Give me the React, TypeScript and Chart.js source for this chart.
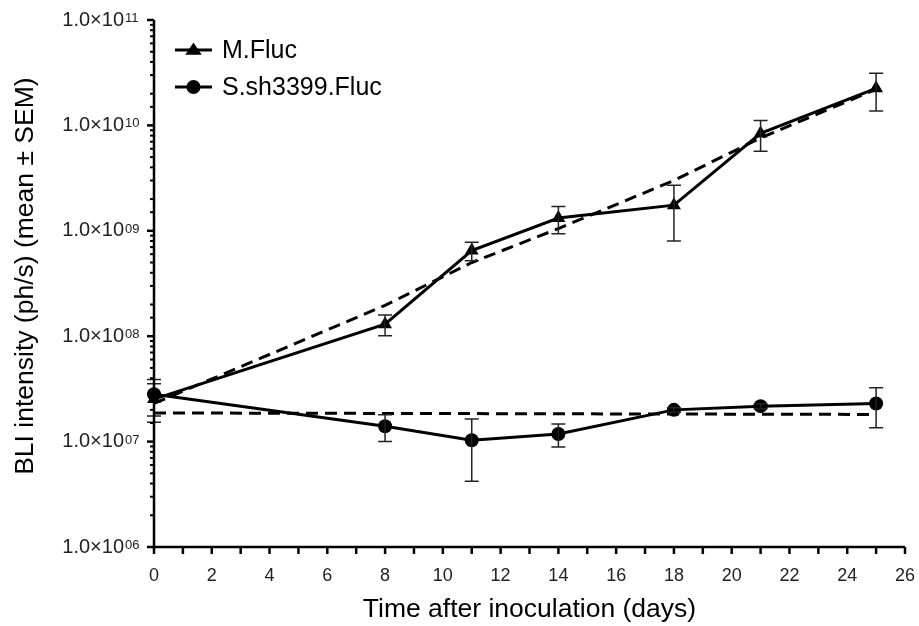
import React, { useEffect, useRef } from 'react';
import { Chart, registerables } from 'chart.js';

Chart.register(...registerables);

// ---- data ----
const days = [0, 8, 11, 14, 18, 21, 25];
const mFlucMean = [2.53e7, 1.3e8, 6.5e8, 1.32e9, 1.75e9, 8.4e9, 2.25e10];
const mFlucSem = [1.0e7, 2.9e7, 1.3e8, 3.8e8, 9.5e8, 2.7e9, 8.8e9];
const sFlucMean = [2.82e7, 1.4e7, 1.03e7, 1.18e7, 2.0e7, 2.17e7, 2.3e7];
const sFlucSem = [1.07e7, 4.0e6, 6.1e6, 2.9e6, 1.0e6, 1.2e6, 9.5e6];
const mTrend = [2.3e7, 1.96e8, 5.0e8, 1.05e9, 3.0e9, 7.6e9, 2.2e10];
const sTrendDays = [0, 25];
const sTrend = [1.87e7, 1.81e7];
const seriesLabels = ['M.Fluc', 'S.sh3399.Fluc'];
const xTickLabels = ['0', '2', '4', '6', '8', '10', '12', '14', '16', '18', '20', '22', '24', '26'];
const yTickValues = [1e6, 1e7, 1e8, 1e9, 1e10, 1e11];
const yTickMantissa = '1.0×10';
const yTickExponents = ['06', '07', '08', '09', '10', '11'];
const xTitle = 'Time after inoculation (days)';
const yTitle = 'BLI intensity (ph/s) (mean ± SEM)';

const FONT = "'Liberation Sans', Arial, sans-serif";

const findYTick = (v: number) =>
  yTickValues.findIndex((t) => Math.abs(Math.log10(t) - Math.log10(v)) < 1e-6);

const errorBarPlugin = {
  id: 'errorBars',
  afterDatasetsDraw(chart: any) {
    const { ctx, scales } = chart;
    const xs = scales.x;
    const ys = scales.y;
    ctx.save();
    ctx.strokeStyle = '#222';
    ctx.lineWidth = 1.5;
    const draw = (means: number[], sems: number[]) => {
      days.forEach((d, i) => {
        const px = xs.getPixelForValue(d);
        const top = ys.getPixelForValue(means[i] + sems[i]);
        const bot = ys.getPixelForValue(Math.max(means[i] - sems[i], 1e6));
        ctx.beginPath();
        ctx.moveTo(px, top);
        ctx.lineTo(px, bot);
        ctx.moveTo(px - 7, top);
        ctx.lineTo(px + 7, top);
        ctx.moveTo(px - 7, bot);
        ctx.lineTo(px + 7, bot);
        ctx.stroke();
      });
    };
    draw(mFlucMean, mFlucSem);
    draw(sFlucMean, sFlucSem);
    ctx.restore();
  },
};

const axesPlugin = {
  id: 'axesTicks',
  afterDraw(chart: any) {
    const { ctx, scales, chartArea } = chart;
    const xs = scales.x;
    const ys = scales.y;
    ctx.save();
    ctx.strokeStyle = '#000';
    ctx.lineWidth = 2.5;
    ctx.beginPath();
    ctx.moveTo(chartArea.left, chartArea.top);
    ctx.lineTo(chartArea.left, chartArea.bottom);
    ctx.lineTo(chartArea.right, chartArea.bottom);
    ctx.stroke();
    // x ticks
    xs.ticks.forEach((t: any) => {
      const px = xs.getPixelForValue(t.value);
      ctx.beginPath();
      ctx.moveTo(px, chartArea.bottom);
      ctx.lineTo(px, chartArea.bottom + 7);
      ctx.stroke();
    });
    // y ticks + exponent of the tick labels
    ctx.fillStyle = '#222';
    ctx.font = `13px ${FONT}`;
    ctx.textAlign = 'left';
    ctx.textBaseline = 'alphabetic';
    ys.ticks.forEach((t: any) => {
      const py = ys.getPixelForValue(t.value);
      const idx = findYTick(t.value);
      const major = idx >= 0;
      ctx.lineWidth = major ? 2.5 : 2;
      ctx.beginPath();
      ctx.moveTo(chartArea.left, py);
      ctx.lineTo(chartArea.left - (major ? 7 : 4), py);
      ctx.stroke();
      if (major) {
        ctx.fillText(yTickExponents[idx], chartArea.left - 29, py + 2);
      }
    });
    ctx.restore();
  },
};

const legendPlugin = {
  id: 'lineLegend',
  afterDraw(chart: any) {
    const { ctx, chartArea } = chart;
    const x0 = chartArea.left + 21;
    const x1 = chartArea.left + 58;
    const rows = [chartArea.top + 30, chartArea.top + 67];
    ctx.save();
    ctx.fillStyle = '#000';
    ctx.strokeStyle = '#000';
    rows.forEach((y, i) => {
      ctx.lineWidth = 3;
      ctx.beginPath();
      ctx.moveTo(x0, y);
      ctx.lineTo(x1, y);
      ctx.stroke();
      const cx = (x0 + x1) / 2;
      ctx.beginPath();
      if (i === 0) {
        const r = 9.5;
        ctx.moveTo(cx, y - r * 0.8);
        ctx.lineTo(cx + 0.866 * r, y + 0.5 * r);
        ctx.lineTo(cx - 0.866 * r, y + 0.5 * r);
        ctx.closePath();
      } else {
        ctx.arc(cx, y, 7, 0, Math.PI * 2);
      }
      ctx.fill();
      ctx.font = `25px ${FONT}`;
      ctx.textBaseline = 'middle';
      ctx.textAlign = 'left';
      ctx.fillText(seriesLabels[i], x1 + 10, y + 1);
    });
    ctx.restore();
  },
};

export default function App() {
  const ref = useRef<HTMLCanvasElement | null>(null);
  useEffect(() => {
    document.body.style.margin = '0';
    if (!ref.current) return;
    const chart = new Chart(ref.current, {
      type: 'line',
      data: {
        datasets: [
          {
            label: seriesLabels[0],
            data: days.map((d, i) => ({ x: d, y: mFlucMean[i] })),
            borderColor: '#000',
            backgroundColor: '#000',
            borderWidth: 3,
            pointStyle: 'triangle',
            pointRadius: 8,
            pointBorderWidth: 0,
            clip: false,
          },
          {
            label: seriesLabels[1],
            data: days.map((d, i) => ({ x: d, y: sFlucMean[i] })),
            borderColor: '#000',
            backgroundColor: '#000',
            borderWidth: 3,
            pointStyle: 'circle',
            pointRadius: 7,
            pointBorderWidth: 0,
            clip: false,
          },
          {
            label: 'M.Fluc fit',
            data: days.map((d, i) => ({ x: d, y: mTrend[i] })),
            borderColor: '#000',
            borderWidth: 3,
            borderDash: [12, 7],
            pointRadius: 0,
            clip: false,
          },
          {
            label: 'S.sh3399.Fluc fit',
            data: sTrendDays.map((d, i) => ({ x: d, y: sTrend[i] })),
            borderColor: '#000',
            borderWidth: 3,
            borderDash: [12, 7],
            pointRadius: 0,
            clip: false,
          },
        ],
      },
      options: {
        responsive: false,
        animation: false,
        layout: { padding: { left: 0, right: 14, top: 20, bottom: 0 } },
        plugins: { legend: { display: false }, tooltip: { enabled: false } },
        scales: {
          x: {
            type: 'linear',
            min: 0,
            max: 26,
            grid: {
              display: true,
              drawOnChartArea: false,
              drawTicks: true,
              tickLength: 18,
              tickColor: 'rgba(0,0,0,0)',
              color: 'rgba(0,0,0,0)',
            },
            border: { display: false },
            ticks: {
              stepSize: 1,
              autoSkip: false,
              maxRotation: 0,
              padding: 0,
              color: '#222',
              font: { family: FONT, size: 18 },
              callback: (v: any) => {
                const i = xTickLabels.indexOf(String(v));
                return i >= 0 ? xTickLabels[i] : '';
              },
            },
            title: {
              display: true,
              text: xTitle,
              color: '#000',
              font: { family: FONT, size: 26.5 },
              padding: { top: 0, bottom: 0 },
            },
            afterFit: (s: any) => {
              s.height = 79;
            },
          },
          y: {
            type: 'logarithmic',
            min: 1e6,
            max: 1e11,
            grid: {
              display: true,
              drawOnChartArea: false,
              drawTicks: true,
              tickLength: 30,
              tickColor: 'rgba(0,0,0,0)',
              color: 'rgba(0,0,0,0)',
            },
            border: { display: false },
            ticks: {
              autoSkip: false,
              padding: 0,
              color: '#222',
              font: { family: FONT, size: 20 },
              callback: (v: any) => (findYTick(v) >= 0 ? yTickMantissa : ''),
            },
            title: {
              display: true,
              text: '  ' + yTitle,
              color: '#000',
              font: { family: FONT, size: 26.5 },
              padding: { top: 10, bottom: 0 },
            },
            afterFit: (s: any) => {
              s.width = 154;
            },
          },
        },
      },
      plugins: [errorBarPlugin, axesPlugin, legendPlugin],
    } as any);
    return () => chart.destroy();
  }, []);
  return (
    <div style={{ width: 919, height: 626 }}>
      <canvas ref={ref} width={919} height={626} />
    </div>
  );
}
